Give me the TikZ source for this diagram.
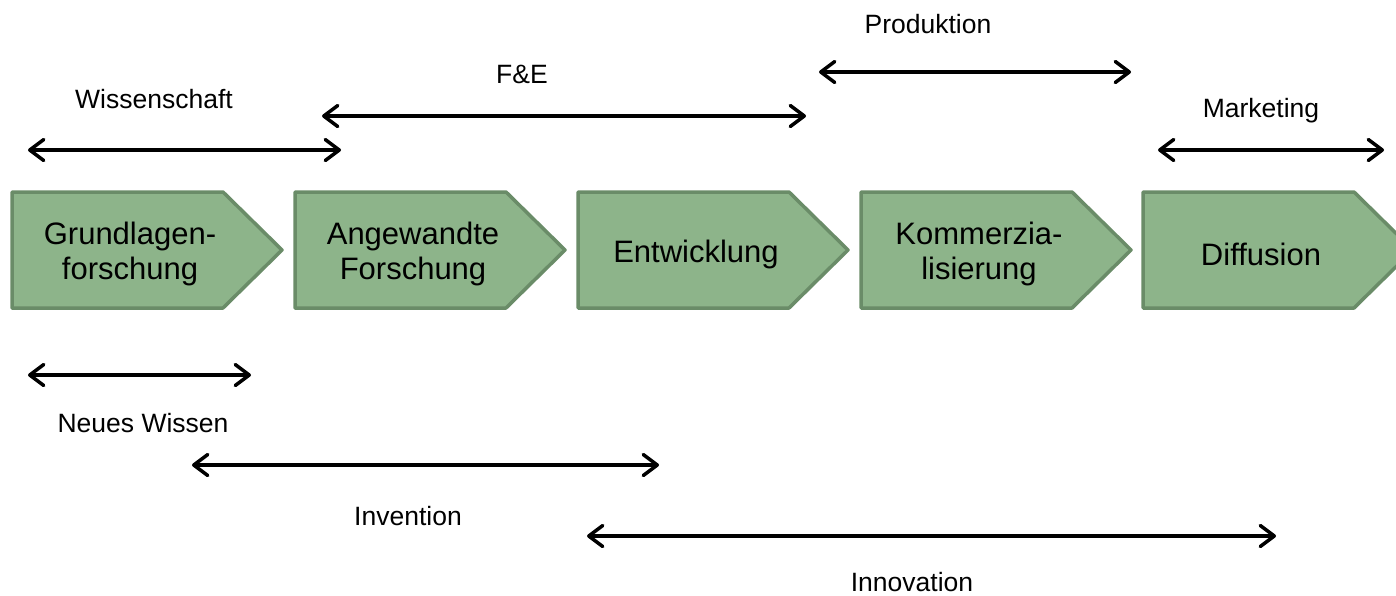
\documentclass[tikz,border=0pt]{standalone}
\usepackage{fontspec}
\setmainfont{Liberation Sans}
\usetikzlibrary{arrows.meta}
\definecolor{boxfill}{RGB}{141,180,138}
\definecolor{boxline}{RGB}{106,140,104}
\tikzset{
  stagebox/.style={fill=boxfill, draw=boxline, line width=3.5pt, line join=round},
  stagetext/.style={align=center, font=\fontsize{31}{35}\selectfont, text=black, inner sep=0pt},
  lbl/.style={font=\fontsize{26.5}{30}\selectfont, text=black, inner sep=0pt, text depth=0pt},
  span/.style={line width=3.5pt, line cap=round,
    {Straight Barb[length=14pt, width=21pt, line width=3.5pt, round]}-{Straight Barb[length=14pt, width=21pt, line width=3.5pt, round]}}
}
\newcommand{\stage}[3]{%
  \path[stagebox] (#1,192) -- (#1+211,192) -- (#1+270,250) -- (#1+211,308) -- (#1,308) -- cycle;
  \node[stagetext] (#2) at (#1+118,254) {#3};
}
\begin{document}
\begin{tikzpicture}[x=1pt,y=-1pt]
\path[use as bounding box, fill=white] (0,0) rectangle (1396,595);
\begin{scope}
\clip (0,0) rectangle (1396,595);
\stage{12}{s1}{Grundlagen-\\forschung}
\stage{295}{s2}{Angewandte\\Forschung}
\stage{578}{s3}{Entwicklung}
\stage{861}{s4}{Kommerzia-\\lisierung}
\stage{1143}{s5}{Diffusion}
\end{scope}
% labels
\node[lbl] (lWiss) at (154,99) {Wissenschaft};
\node[lbl] (lFE) at (522,74) {F\&E};
\node[lbl] (lProd) at (928,24) {Produktion};
\node[lbl] (lMark) at (1261,108) {Marketing};
\node[lbl] (lNeu) at (143,423) {Neues Wissen};
\node[lbl] (lInv) at (408,516) {Invention};
\node[lbl] (lInno) at (912,582) {Innovation};
% arrow end points
\coordinate (wA) at (28,150); \coordinate (wB) at (341,150);
\coordinate (fA) at (322,116); \coordinate (fB) at (806,116);
\coordinate (pA) at (819,72); \coordinate (pB) at (1131,72);
\coordinate (mA) at (1158,150); \coordinate (mB) at (1384,150);
\coordinate (nA) at (28,375); \coordinate (nB) at (251,375);
\coordinate (iA) at (192,465); \coordinate (iB) at (659,465);
\coordinate (oA) at (587,536); \coordinate (oB) at (1276,536);
\draw[span] (wA) -- (wB);
\draw[span] (fA) -- (fB);
\draw[span] (pA) -- (pB);
\draw[span] (mA) -- (mB);
\draw[span] (nA) -- (nB);
\draw[span] (iA) -- (iB);
\draw[span] (oA) -- (oB);
\end{tikzpicture}
\end{document}
